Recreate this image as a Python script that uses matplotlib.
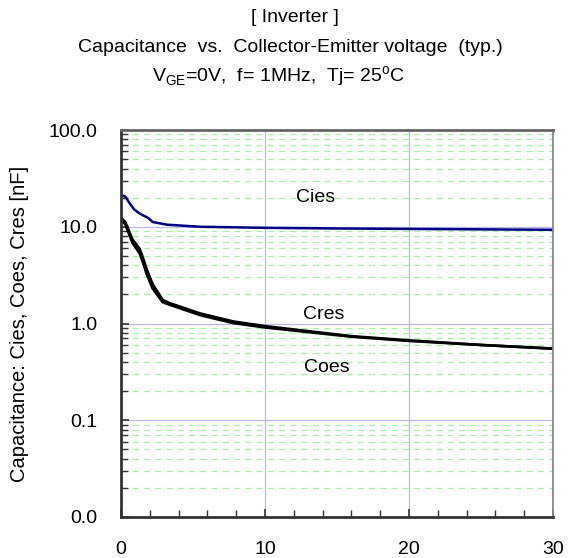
import matplotlib
matplotlib.use("Agg")
import matplotlib.pyplot as plt
from matplotlib.ticker import FixedLocator, FuncFormatter, LogLocator, NullFormatter
import numpy as np

plt.rcParams['font.family'] = ['Liberation Sans', 'DejaVu Sans']

cies_v = [0, 0.3, 0.6, 0.9, 1.2, 1.5, 1.9, 2.2, 3.2, 5.5, 10, 15, 20, 25, 30]
cies_c = [21.4, 20.5, 17.5, 15.2, 14.0, 13.2, 12.3, 11.2, 10.5, 10.0, 9.75, 9.6, 9.5, 9.4, 9.3]

coes_v = [0, 0.3, 0.8, 1.3, 1.5, 1.8, 2.2, 2.9, 3.4, 5.5, 7.8, 10, 16, 20, 25, 30]
coes_c = [12.4, 11.2, 7.4, 5.9, 4.9, 3.6, 2.55, 1.75, 1.62, 1.27, 1.05, 0.94, 0.74, 0.67, 0.6, 0.55]

cres_v = [0, 0.3, 0.8, 1.3, 1.5, 1.8, 2.2, 2.9, 3.4, 5.5, 7.8, 10, 16, 20, 25, 30]
cres_c = [12.2, 10.6, 6.8, 5.3, 4.4, 3.2, 2.3, 1.66, 1.56, 1.22, 1.01, 0.91, 0.73, 0.66, 0.6, 0.55]

y_major = [0.01, 0.1, 1, 10, 100]
x_major = [0, 10, 20, 30]

fig = plt.figure(figsize=(5.76, 5.58), dpi=100)
ax = fig.add_axes([0.210, 0.0735, 0.750, 0.6935])
ax.set_yscale('log')
ax.set_xlim(0, 30)
ax.set_ylim(0.01, 100)

ax.yaxis.set_major_locator(FixedLocator(y_major))
ax.yaxis.set_minor_locator(LogLocator(base=10, subs=np.arange(2, 10)))
ax.yaxis.set_minor_formatter(NullFormatter())
ax.yaxis.set_major_formatter(FuncFormatter(lambda v, p: f"{v:.1f}"))
ax.xaxis.set_major_locator(FixedLocator(x_major))
ax.xaxis.set_minor_locator(FixedLocator(np.arange(0, 31, 2)))

ax.grid(which='major', axis='both', color='#b8b8f0', lw=0.9, ls='-')
ax.grid(which='minor', axis='y', color='#aaf0aa', lw=0.9, ls=(0, (5, 4)))
ax.set_axisbelow(True)

ax.plot(cies_v, cies_c, color='#000080', lw=1.8)
ax.plot(coes_v, coes_c, color='black', lw=1.9)
ax.plot(cres_v, cres_c, color='black', lw=1.9)

ax.text(13.5, 19.9, 'Cies', fontsize=14, ha='center', va='center')
ax.text(14.1, 1.24, 'Cres', fontsize=14, ha='center', va='center')
ax.text(14.3, 0.35, 'Coes', fontsize=14, ha='center', va='center')

ax.tick_params(axis='both', which='both', direction='in', labelsize=14, color='#333333')
ax.tick_params(axis='y', which='major', length=6, width=1.2, pad=17)
ax.tick_params(axis='y', which='minor', length=5, width=1.0)
ax.tick_params(axis='x', which='major', length=6, width=1.2, pad=17)
ax.tick_params(axis='x', which='minor', length=5, width=1.0)

ax.spines['left'].set_color('#333333'); ax.spines['left'].set_linewidth(2)
ax.spines['bottom'].set_color('#333333'); ax.spines['bottom'].set_linewidth(2)
ax.spines['top'].set_color('#666666'); ax.spines['top'].set_linewidth(2)
ax.spines['right'].set_color('#888888'); ax.spines['right'].set_linewidth(1.3)

ax.set_ylabel('Capacitance: Cies, Coes, Cres [nF]', fontsize=14.5, labelpad=14)

fig.text(295/576, 1 - 17/558, '[ Inverter ]', fontsize=14, ha='center', va='center')
fig.text(290/576, 1 - 47/558, 'Capacitance  vs.  Collector-Emitter voltage  (typ.)', fontsize=14, ha='center', va='center')
fig.text(278/576, 1 - 77/558, r'V$_{\mathregular{GE}}$=0V,  f= 1MHz,  Tj= 25$^{\mathregular{o}}$C', fontsize=14, ha='center', va='center')

fig.savefig('out.png', dpi=100)
